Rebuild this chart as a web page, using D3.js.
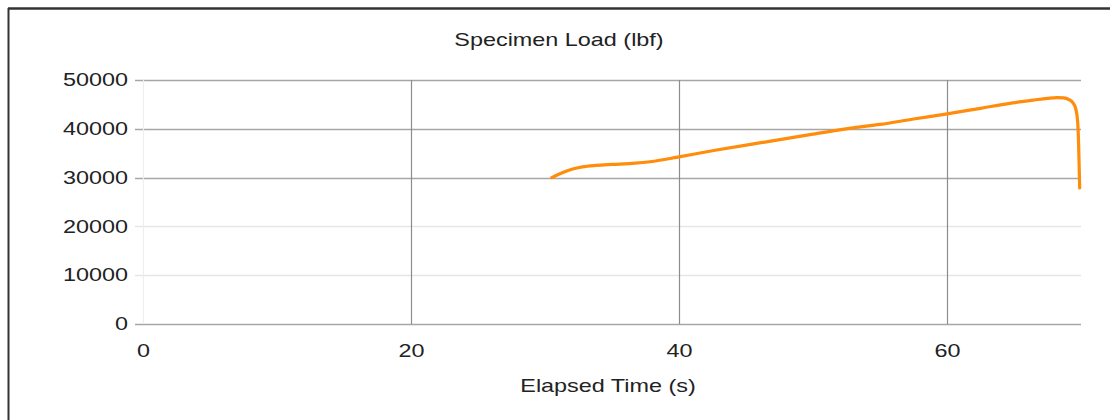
<!DOCTYPE html>
<html>
<head>
<meta charset="utf-8">
<script src="https://cdn.jsdelivr.net/npm/d3@7"></script>
<style>
  body { margin: 0; background: #fff; }
  svg { display: block; font-family: "Liberation Sans", Arial, sans-serif; }
</style>
</head>
<body>
<div id="chart"></div>
<script>
// elapsed time (s) and specimen load (lbf)
var timeS = [30.5, 31.2, 32.0, 32.8, 33.8, 35.0, 36.5, 38.0, 39.9, 42.8, 46.0, 50.0, 53.0, 55.0, 57.5, 59.9, 62.5, 64.9, 66.5, 67.5, 68.2, 68.7, 69.1, 69.4, 69.6, 69.75, 69.82, 69.87, 69.9];
var loadLbf = [30000, 30900, 31700, 32200, 32500, 32700, 32900, 33300, 34200, 35650, 37100, 38900, 40200, 40900, 42000, 43000, 44200, 45300, 45900, 46250, 46400, 46350, 46000, 45300, 44200, 41500, 37000, 31500, 27900];
var xTicks = [0, 20, 40, 60];
var yTicks = [0, 10000, 20000, 30000, 40000, 50000];
var faintY = [10000, 20000];

var W = 1110, H = 420;
var margin = { top: 80, right: 29, bottom: 96, left: 143 },
  width = W - margin.left - margin.right,
  height = H - margin.top - margin.bottom;

// the scan is stretched sideways, so text is widened to match
var sx = 1.3;

var svg = d3.select("#chart").append("svg")
  .attr("width", W)
  .attr("height", H);

// outer frame (only top and left edges show in the crop)
svg.append("line").attr("x1", 8).attr("x2", W).attr("y1", 8.5).attr("y2", 8.5)
  .attr("stroke", "#333").attr("stroke-width", 2.5);
svg.append("line").attr("x1", 8.5).attr("x2", 8.5).attr("y1", 8).attr("y2", H)
  .attr("stroke", "#333").attr("stroke-width", 2);

var g = svg.append("g")
  .attr("transform", "translate(" + margin.left + "," + margin.top + ")");

var x = d3.scaleLinear().domain([0, 70]).range([0, width]);
var y = d3.scaleLinear().domain([0, 50000]).range([height, 0]);

// ======== Grid ========
g.append("g").selectAll("line")
  .data(yTicks)
  .enter().append("line")
  .attr("x1", -8).attr("x2", width)
  .attr("y1", function (d) { return Math.round(y(d)) + 0.5; })
  .attr("y2", function (d) { return Math.round(y(d)) + 0.5; })
  .attr("stroke", function (d) { return faintY.indexOf(d) >= 0 ? "#e6e6e6" : "#a6a6a6"; })
  .attr("stroke-width", 1.6);

g.append("g").selectAll("line")
  .data(xTicks)
  .enter().append("line")
  .attr("x1", function (d) { return Math.round(x(d)) + 0.5; })
  .attr("x2", function (d) { return Math.round(x(d)) + 0.5; })
  .attr("y1", 0).attr("y2", height)
  .attr("stroke", function (d) { return d == 0 ? "#eeeeee" : "#8c8c8c"; })
  .attr("stroke-width", 1.2);

// ======== Axes ========
var xAxis = d3.axisBottom(x).tickValues(xTicks).tickSize(0).tickPadding(20).tickFormat(d3.format("d"));
var yAxis = d3.axisLeft(y).tickValues(yTicks).tickSize(0).tickPadding(11.5).tickFormat(d3.format("d"));

g.append("g")
  .attr("class", "axis axis--x")
  .attr("transform", "translate(0," + height + ")")
  .call(xAxis)
  .call(function (s) { s.select(".domain").remove(); })
  .selectAll("text")
  .attr("font-size", 18).attr("fill", "#222")
  .attr("font-family", "Liberation Sans, Arial, sans-serif")
  .attr("transform", "scale(" + sx + ",1)");

g.append("g")
  .attr("class", "axis axis--y")
  .call(yAxis)
  .call(function (s) { s.select(".domain").remove(); })
  .selectAll("text")
  .attr("font-size", 18).attr("fill", "#222")
  .attr("font-family", "Liberation Sans, Arial, sans-serif")
  .attr("transform", "scale(" + sx + ",1)");

// ======== Load curve ========
var pts = timeS.map(function (t, i) { return [t, loadLbf[i]]; });
var line = d3.line()
  .x(function (d) { return x(d[0]); })
  .y(function (d) { return y(d[1]); })
  .curve(d3.curveMonotoneX);

g.append("path")
  .datum(pts)
  .attr("fill", "none")
  .attr("stroke", "#ff8c0a")
  .attr("stroke-width", 3.2)
  .attr("stroke-linejoin", "round")
  .attr("stroke-linecap", "round")
  .attr("d", line);

// ======== Titles ========
svg.append("text")
  .attr("transform", "translate(559,46) scale(" + sx + ",1)")
  .attr("text-anchor", "middle")
  .attr("font-size", 18).attr("fill", "#222")
  .text("Specimen Load (lbf)");

svg.append("text")
  .attr("transform", "translate(" + (margin.left + width / 2 - 4) + ",392) scale(" + sx + ",1)")
  .attr("text-anchor", "middle")
  .attr("font-size", 18).attr("fill", "#222")
  .text("Elapsed Time (s)");
</script>
</body>
</html>
